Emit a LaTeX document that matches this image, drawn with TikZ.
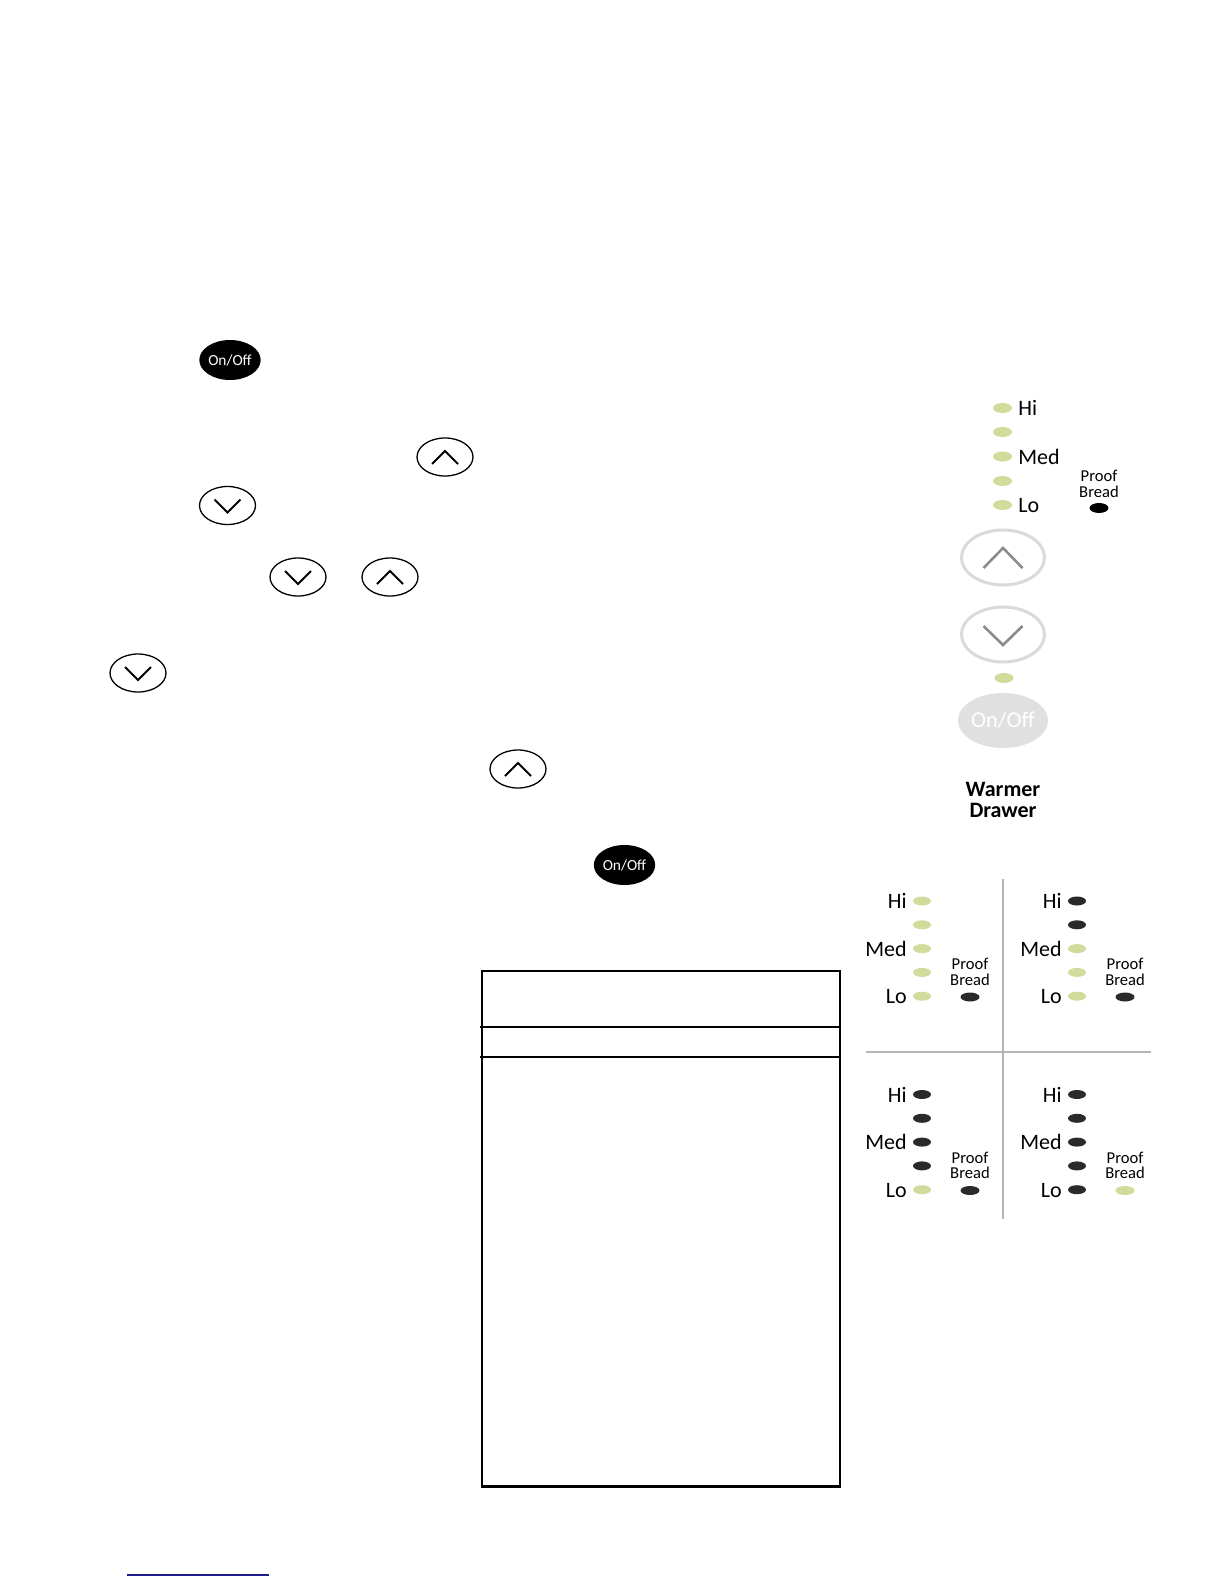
\documentclass[tikz,border=0pt]{standalone}
\usepackage{fontspec}
\setmainfont{Carlito}
\usetikzlibrary{shapes.geometric}
\definecolor{ledgreen}{HTML}{CFDC9C}
\definecolor{leddark}{HTML}{2A2A2A}
\definecolor{ringgray}{HTML}{DADADA}
\definecolor{chevgray}{HTML}{8C8C8C}
\definecolor{offgray}{HTML}{E0E0E0}
\definecolor{gridgray}{HTML}{B4B4B4}
\definecolor{linkblue}{HTML}{1C1C8C}
\begin{document}
\begin{tikzpicture}[x=0.5pt,y=-0.5pt,
  smallbtn/.style={ellipse, draw=black, line width=0.65pt, minimum width=28pt, minimum height=19pt, inner sep=0pt},
  onoffbtn/.style={ellipse, fill=black, minimum width=29.5pt, minimum height=20pt, inner sep=0pt, text=white, font=\fontsize{7.7}{8}\selectfont},
  chevk/.style={line width=1pt, draw=black},
  bigbtn/.style={ellipse, draw=ringgray, line width=1.5pt, minimum width=41.5pt, minimum height=27.5pt, inner sep=0pt},
  chevg/.style={line width=1.3pt, draw=chevgray},
  bigoff/.style={ellipse, fill=offgray, minimum width=42pt, minimum height=27.5pt, inner sep=0pt, text=white, font=\fontsize{11.3}{12}\selectfont},
  led/.style={ellipse, minimum width=9.5pt, minimum height=5pt, inner sep=0pt},
  gled/.style={ellipse, minimum width=9pt, minimum height=4.5pt, inner sep=0pt},
  lbl/.style={inner sep=0pt, font=\fontsize{11}{12}\selectfont},
  proof/.style={inner sep=0pt, align=center, font=\fontsize{8.3}{7.7}\selectfont},
  warm/.style={inner sep=0pt, align=center, font=\fontsize{11}{10.5}\selectfont\bfseries},
  tbl/.style={line width=1.25pt, draw=black},
  gridline/.style={line width=1pt, draw=gridgray}
]
\fill[white] (0,0) rectangle (1224,1584);
\useasboundingbox (0,0) rectangle (1224,1584);

% ---- left column buttons ----
\node[onoffbtn] (on1) at (230,360) {On/Off};
\node[smallbtn] (up1) at (445,457) {};
\draw[chevk] ([shift={(-13,7)}]up1.center) -- ([shift={(0,-6)}]up1.center) -- ([shift={(13,7)}]up1.center);
\node[smallbtn] (dn1) at (227.5,505.5) {};
\draw[chevk] ([shift={(-13,-6)}]dn1.center) -- ([shift={(0,7)}]dn1.center) -- ([shift={(13,-6)}]dn1.center);
\node[smallbtn] (dn2) at (298,577) {};
\draw[chevk] ([shift={(-13,-6)}]dn2.center) -- ([shift={(0,7)}]dn2.center) -- ([shift={(13,-6)}]dn2.center);
\node[smallbtn] (up2) at (390,577) {};
\draw[chevk] ([shift={(-13,7)}]up2.center) -- ([shift={(0,-6)}]up2.center) -- ([shift={(13,7)}]up2.center);
\node[smallbtn] (dn3) at (138,673) {};
\draw[chevk] ([shift={(-13,-6)}]dn3.center) -- ([shift={(0,7)}]dn3.center) -- ([shift={(13,-6)}]dn3.center);
\node[smallbtn] (up3) at (518,769) {};
\draw[chevk] ([shift={(-13,7)}]up3.center) -- ([shift={(0,-6)}]up3.center) -- ([shift={(13,7)}]up3.center);
\node[onoffbtn] (on2) at (624.5,865) {On/Off};

% ---- right control panel ----
\foreach \i/\y in {1/408,2/432,3/456.5,4/481,5/505}{
  \node[led, fill=ledgreen] (pl\i) at (1002.5,\y) {};
}
\node[lbl, anchor=base west] (phi) at (1018,415.5) {Hi};
\node[lbl, anchor=base west] (pmed) at (1018,464) {Med};
\node[lbl, anchor=base west] (plo) at (1018,512.5) {Lo};
\node[proof] (pproof) at (1099,484) {Proof\\Bread};
\node[led, fill=black] (pdot) at (1099,508) {};
\node[bigbtn] (bup) at (1003,557.5) {};
\draw[chevg] ([shift={(-19.5,10.5)}]bup.center) -- ([shift={(0,-9.5)}]bup.center) -- ([shift={(19.5,10.5)}]bup.center);
\node[bigbtn] (bdn) at (1003,634.5) {};
\draw[chevg] ([shift={(-19.5,-8.5)}]bdn.center) -- ([shift={(0,10.5)}]bdn.center) -- ([shift={(19.5,-8.5)}]bdn.center);
\node[led, fill=ledgreen] (pon) at (1004,678) {};
\node[bigoff] (boff) at (1003,720.5) {On/Off};
\node[warm] (warmer) at (1003,800) {Warmer\\Drawer};

% ---- four-state grid ----
\coordinate (vt) at (1003,879);
\coordinate (vb) at (1003,1219);
\coordinate (hl) at (866,1052);
\coordinate (hr) at (1151,1052);
\draw[gridline] (vt) -- (vb);
\draw[gridline] (hl) -- (hr);
\foreach \q/\dx/\dy/\ca/\cb/\cc/\cd/\ce/\cp in {
  tl/922/901/ledgreen/ledgreen/ledgreen/ledgreen/ledgreen/leddark,
  tr/1077/901/leddark/leddark/ledgreen/ledgreen/ledgreen/leddark,
  bl/922/1094.5/leddark/leddark/leddark/leddark/ledgreen/leddark,
  br/1077/1094.5/leddark/leddark/leddark/leddark/leddark/ledgreen}{
  \node[gled, fill=\ca] (\q d1) at (\dx,\dy) {};
  \node[gled, fill=\cb] (\q d2) at (\dx,\dy+23.8) {};
  \node[gled, fill=\cc] (\q d3) at (\dx,\dy+47.6) {};
  \node[gled, fill=\cd] (\q d4) at (\dx,\dy+71.4) {};
  \node[gled, fill=\ce] (\q d5) at (\dx,\dy+95.2) {};
  \node[lbl, anchor=base east] (\q hi) at (\dx-15,\dy+7.5) {Hi};
  \node[lbl, anchor=base east] (\q med) at (\dx-15,\dy+55.1) {Med};
  \node[lbl, anchor=base east] (\q lo) at (\dx-15,\dy+102.7) {Lo};
  \node[proof] (\q pr) at (\dx+48,\dy+71) {Proof\\Bread};
  \node[gled, minimum width=9.5pt, fill=\cp] (\q pd) at (\dx+48,\dy+96) {};
}

% ---- table frame ----
\coordinate (t1) at (482,971);
\coordinate (t2) at (840,1486.5);
\coordinate (l1a) at (480,1027);
\coordinate (l1b) at (840,1027);
\coordinate (l2a) at (480,1057);
\coordinate (l2b) at (840,1057);
\draw[tbl] (t1) rectangle (t2);
\draw[tbl] (l1a) -- (l1b);
\draw[tbl] (l2a) -- (l2b);

% ---- bottom link rule ----
\coordinate (ba) at (127,1575);
\coordinate (bb) at (269,1575);
\draw[line width=0.75pt, linkblue] (ba) -- (bb);
\end{tikzpicture}
\end{document}
